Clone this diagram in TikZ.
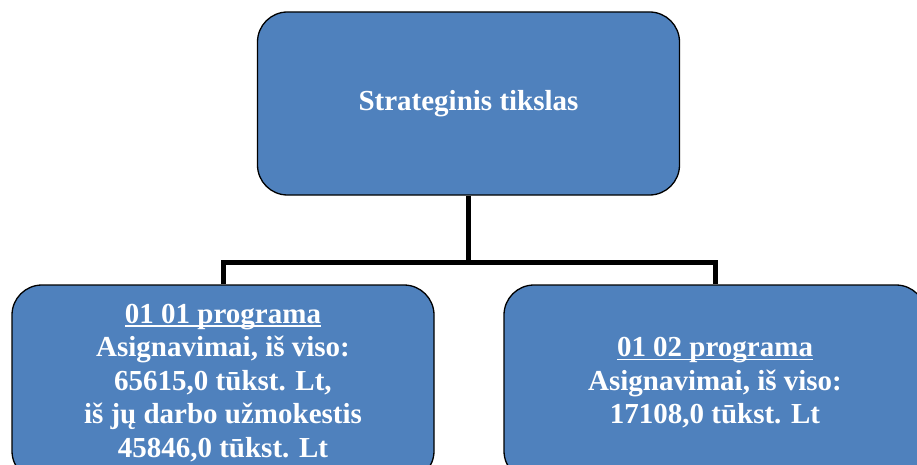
\documentclass[tikz,border=0pt]{standalone}
\usepackage{fontspec}
\setmainfont{Liberation Serif}
\usepackage{xcolor}
\usepackage{tikz}
\usetikzlibrary{positioning,calc}
\definecolor{boxblue}{RGB}{79,129,189}
\newcommand{\progtitle}[1]{\setbox0\hbox{#1}\rlap{\rule[-3.5pt]{\wd0}{1.6pt}}\box0}

\begin{document}
\begin{tikzpicture}[x=1pt, y=-1pt,
    box/.style={draw=black, line width=1.3pt, fill=boxblue, rounded corners=30pt,
        minimum width=422pt, minimum height=183pt, inner sep=0pt, align=center,
        text=white, font=\fontsize{29}{33.5}\selectfont\bfseries},
    progbox/.style={box, minimum height=196pt},
    link/.style={draw=black, line width=5pt}]
    \useasboundingbox (0,0) rectangle (917,465);
    \node[box] (goal) at (468.5,103.5) {Strateginis tikslas};
    \node[progbox] (prog1) at (223,383) {\progtitle{01 01 programa}\\Asignavimai, iš viso:\\65615,0 tūkst. Lt,\\iš jų darbo užmokestis\\45846,0 tūkst. Lt};
    \node[progbox] (prog2) at (715,383) {\progtitle{01 02 programa}\\Asignavimai, iš viso:\\17108,0 tūkst. Lt};
    
    \coordinate (split) at (goal.south |- 0,262);
    \draw[link] (goal.south) -- (split);
    \draw[link] (prog1.north) |- (split) -| (prog2.north);
\end{tikzpicture}
\end{document}
